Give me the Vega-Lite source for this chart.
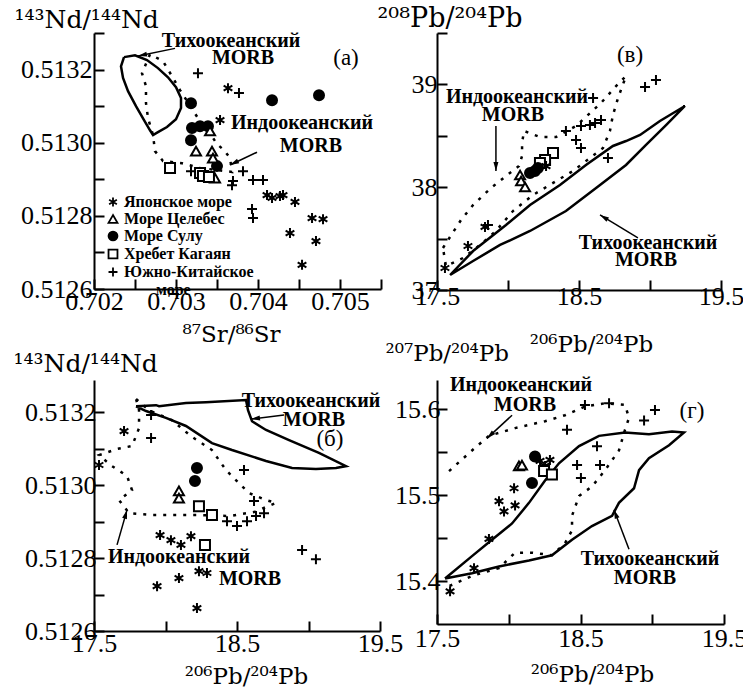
{
"$schema": "https://vega.github.io/schema/vega-lite/v6.json",
"background": "white",
"padding": {"left": 13, "top": 4, "right": 0, "bottom": 0},
"bounds": "flush",
"columns": 2,
"spacing": {"row": 90, "column": 56},
"resolve": {"scale": {"shape": "independent", "fill": "independent", "stroke": "independent"}},
"config": {
  "view": {"stroke": null},
  "font": "Liberation Serif",
  "axis": {"domainColor": "black", "domainWidth": 2, "tickColor": "black", "tickWidth": 2, "tickSize": -10, "labelPadding": 6,
    "labelFont": "Liberation Serif", "labelFontSize": 26, "labelColor": "black", "titleFont": "DejaVu Serif", "titleFontSize": 23,
    "titleFontWeight": "normal", "titleColor": "black", "grid": false, "labelOverlap": false, "labelFlush": false, "labelBound": false}
},
"datasets": {
  "ptsA": [
    {"x":0.703268,"y":0.513190,"s":"Южно-Китайское море"},{"x":0.703768,"y":0.513136,"s":"Южно-Китайское море"},{"x":0.703183,"y":0.512922,"s":"Южно-Китайское море"},{"x":0.703695,"y":0.512895,"s":"Южно-Китайское море"},{"x":0.703817,"y":0.512922,"s":"Южно-Китайское море"},{"x":0.703939,"y":0.512898,"s":"Южно-Китайское море"},{"x":0.704061,"y":0.512898,"s":"Южно-Китайское море"},{"x":0.703683,"y":0.512884,"s":"Южно-Китайское море"},{"x":0.703927,"y":0.512819,"s":"Южно-Китайское море"},{"x":0.703939,"y":0.512794,"s":"Южно-Китайское море"},
    {"x":0.703634,"y":0.513149,"s":"Японское море"},{"x":0.703537,"y":0.513062,"s":"Японское море"},{"x":0.704110,"y":0.512857,"s":"Японское море"},{"x":0.704171,"y":0.512849,"s":"Японское море"},{"x":0.704268,"y":0.512854,"s":"Японское море"},{"x":0.704305,"y":0.512857,"s":"Японское море"},{"x":0.704451,"y":0.512838,"s":"Японское море"},{"x":0.704659,"y":0.512794,"s":"Японское море"},{"x":0.704793,"y":0.512791,"s":"Японское море"},{"x":0.704390,"y":0.512753,"s":"Японское море"},{"x":0.704707,"y":0.512731,"s":"Японское море"},{"x":0.704537,"y":0.512666,"s":"Японское море"},
    {"x":0.704171,"y":0.513116,"s":"Море Сулу"},{"x":0.704744,"y":0.513130,"s":"Море Сулу"},{"x":0.703183,"y":0.513108,"s":"Море Сулу"},{"x":0.703195,"y":0.513040,"s":"Море Сулу"},{"x":0.703293,"y":0.513045,"s":"Море Сулу"},{"x":0.703390,"y":0.513045,"s":"Море Сулу"},{"x":0.703183,"y":0.513007,"s":"Море Сулу"},{"x":0.703500,"y":0.512936,"s":"Море Сулу"},
    {"x":0.703415,"y":0.513032,"s":"Море Целебес"},{"x":0.703244,"y":0.512977,"s":"Море Целебес"},{"x":0.703439,"y":0.512977,"s":"Море Целебес"},{"x":0.703451,"y":0.512958,"s":"Море Целебес"},{"x":0.703476,"y":0.512903,"s":"Море Целебес"},
    {"x":0.702927,"y":0.512931,"s":"Хребет Кагаян"},{"x":0.703293,"y":0.512917,"s":"Хребет Кагаян"},{"x":0.703329,"y":0.512909,"s":"Хребет Кагаян"},{"x":0.703402,"y":0.512906,"s":"Хребет Кагаян"}
  ],
  "pacA": [
    {"i":0,"x":0.702366,"y":0.513234},{"i":1,"x":0.702500,"y":0.513239},{"i":2,"x":0.702646,"y":0.513226},{"i":3,"x":0.702780,"y":0.513204},{"i":4,"x":0.702902,"y":0.513179},{"i":5,"x":0.703000,"y":0.513152},{"i":6,"x":0.703061,"y":0.513122},{"i":7,"x":0.703061,"y":0.513095},{"i":8,"x":0.703000,"y":0.513064},{"i":9,"x":0.702890,"y":0.513043},{"i":10,"x":0.702780,"y":0.513029},{"i":11,"x":0.702720,"y":0.513021},{"i":12,"x":0.702683,"y":0.513034},{"i":13,"x":0.702610,"y":0.513062},{"i":14,"x":0.702512,"y":0.513100},{"i":15,"x":0.702415,"y":0.513141},{"i":16,"x":0.702354,"y":0.513177},{"i":17,"x":0.702329,"y":0.513209},{"i":18,"x":0.702366,"y":0.513234}
  ],
  "indA": [
    {"i":0,"x":0.702683,"y":0.513242},{"i":1,"x":0.702585,"y":0.513190},{"i":2,"x":0.702634,"y":0.513155},{"i":3,"x":0.702634,"y":0.513108},{"i":4,"x":0.702659,"y":0.513067},{"i":5,"x":0.702720,"y":0.513021},{"i":6,"x":0.702744,"y":0.512977},{"i":7,"x":0.702841,"y":0.512950},{"i":8,"x":0.703073,"y":0.512944},{"i":9,"x":0.703293,"y":0.512931},{"i":10,"x":0.703683,"y":0.512920},{"i":11,"x":0.703659,"y":0.512958},{"i":12,"x":0.703585,"y":0.512980},{"i":13,"x":0.703500,"y":0.512996},{"i":14,"x":0.703415,"y":0.513026},{"i":15,"x":0.703268,"y":0.513067},{"i":16,"x":0.703049,"y":0.513144},{"i":17,"x":0.702951,"y":0.513182},{"i":18,"x":0.702841,"y":0.513223},{"i":19,"x":0.702683,"y":0.513242}
  ],
  "txtA": [
    {"x":0.703671,"y":0.513278,"t":"Тихоокеанский"},{"x":0.703817,"y":0.513231,"t":"MORB"},{"x":0.704537,"y":0.513054,"t":"Индоокеанский"},{"x":0.704646,"y":0.512991,"t":"MORB"}
  ],
  "arrA": [
    {"k":1,"x":0.702537,"y":0.513237,"x2":0.702988,"y2":0.513258},{"k":2,"x":0.703659,"y":0.512939,"x2":0.703988,"y2":0.512974}
  ],
  "ptsB": [
    {"x":18.965,"y":38.975,"s":"Южно-Китайское море"},{"x":19.042,"y":39.043,"s":"Южно-Китайское море"},{"x":18.599,"y":38.868,"s":"Южно-Китайское море"},{"x":18.514,"y":38.595,"s":"Южно-Китайское море"},{"x":18.577,"y":38.605,"s":"Южно-Китайское море"},{"x":18.613,"y":38.625,"s":"Южно-Китайское море"},{"x":18.655,"y":38.654,"s":"Южно-Китайское море"},{"x":18.408,"y":38.547,"s":"Южно-Китайское море"},{"x":18.479,"y":38.459,"s":"Южно-Китайское море"},{"x":18.514,"y":38.381,"s":"Южно-Китайское море"},{"x":18.704,"y":38.284,"s":"Южно-Китайское море"},{"x":17.859,"y":37.632,"s":"Южно-Китайское море"},
    {"x":18.317,"y":38.333,"s":"Хребет Кагаян"},{"x":18.261,"y":38.265,"s":"Хребет Кагаян"},{"x":18.225,"y":38.235,"s":"Хребет Кагаян"},
    {"x":18.268,"y":38.206,"s":"Японское море"},{"x":17.838,"y":37.613,"s":"Японское море"},{"x":17.718,"y":37.428,"s":"Японское море"},{"x":17.556,"y":37.214,"s":"Японское море"},
    {"x":18.190,"y":38.158,"s":"Море Сулу"},{"x":18.155,"y":38.138,"s":"Море Сулу"},{"x":18.211,"y":38.187,"s":"Море Сулу"},
    {"x":18.085,"y":38.119,"s":"Море Целебес"},{"x":18.092,"y":38.060,"s":"Море Целебес"},{"x":18.120,"y":38.002,"s":"Море Целебес"}
  ],
  "pacB": [
    {"i":0,"x":17.592,"y":37.146},{"i":1,"x":17.754,"y":37.379},{"i":2,"x":17.986,"y":37.632},{"i":3,"x":18.155,"y":37.827},{"i":4,"x":18.366,"y":38.021},{"i":5,"x":18.549,"y":38.216},{"i":6,"x":18.739,"y":38.401},{"i":7,"x":18.831,"y":38.449},{"i":8,"x":18.930,"y":38.508},{"i":9,"x":19.070,"y":38.644},{"i":10,"x":19.246,"y":38.790},{"i":11,"x":19.113,"y":38.605},{"i":12,"x":18.972,"y":38.411},{"i":13,"x":18.831,"y":38.216},{"i":14,"x":18.648,"y":38.021},{"i":15,"x":18.408,"y":37.768},{"i":16,"x":18.155,"y":37.574},{"i":17,"x":17.944,"y":37.438},{"i":18,"x":17.754,"y":37.282},{"i":19,"x":17.592,"y":37.146}
  ],
  "indB": [
    {"i":0,"x":17.542,"y":37.409},{"i":1,"x":17.669,"y":37.681},{"i":2,"x":17.754,"y":37.827},{"i":3,"x":17.880,"y":37.992},{"i":4,"x":17.986,"y":38.109},{"i":5,"x":18.077,"y":38.206},{"i":6,"x":18.099,"y":38.304},{"i":7,"x":18.099,"y":38.430},{"i":8,"x":18.113,"y":38.547},{"i":9,"x":18.225,"y":38.488},{"i":10,"x":18.338,"y":38.488},{"i":11,"x":18.479,"y":38.595},{"i":12,"x":18.655,"y":38.819},{"i":13,"x":18.761,"y":38.984},{"i":14,"x":18.831,"y":39.082},{"i":15,"x":18.775,"y":38.868},{"i":16,"x":18.739,"y":38.702},{"i":17,"x":18.718,"y":38.547},{"i":18,"x":18.669,"y":38.381},{"i":19,"x":18.458,"y":38.158},{"i":20,"x":18.176,"y":37.924},{"i":21,"x":18.035,"y":37.768},{"i":22,"x":17.915,"y":37.574},{"i":23,"x":17.803,"y":37.438},{"i":24,"x":17.683,"y":37.311},{"i":25,"x":17.563,"y":37.233},{"i":26,"x":17.542,"y":37.409}
  ],
  "txtB": [
    {"x":18.063,"y":38.877,"t":"Индоокеанский"},{"x":18.035,"y":38.702,"t":"MORB"},{"x":18.986,"y":37.457,"t":"Тихоокеанский"},{"x":18.972,"y":37.292,"t":"MORB"}
  ],
  "arrB": [
    {"k":1,"x":17.915,"y":38.158,"x2":17.915,"y2":38.595},{"k":2,"x":18.648,"y":37.730,"x2":18.915,"y2":37.506}
  ],
  "ptsC": [
    {"x":17.710,"y":0.513148,"s":"Японское море"},{"x":17.535,"y":0.513055,"s":"Японское море"},{"x":17.962,"y":0.512863,"s":"Японское море"},{"x":18.038,"y":0.512849,"s":"Японское море"},{"x":18.108,"y":0.512836,"s":"Японское море"},{"x":18.178,"y":0.512860,"s":"Японское море"},{"x":18.290,"y":0.512759,"s":"Японское море"},{"x":18.234,"y":0.512764,"s":"Японское море"},{"x":18.094,"y":0.512745,"s":"Японское море"},{"x":17.941,"y":0.512723,"s":"Японское море"},{"x":18.220,"y":0.512663,"s":"Японское море"},
    {"x":17.899,"y":0.513129,"s":"Южно-Китайское море"},{"x":17.899,"y":0.513192,"s":"Южно-Китайское море"},{"x":18.549,"y":0.513041,"s":"Южно-Китайское море"},{"x":18.619,"y":0.512956,"s":"Южно-Китайское море"},{"x":18.430,"y":0.512901,"s":"Южно-Китайское море"},{"x":18.500,"y":0.512888,"s":"Южно-Китайское море"},{"x":18.570,"y":0.512901,"s":"Южно-Китайское море"},{"x":18.633,"y":0.512915,"s":"Южно-Китайское море"},{"x":18.689,"y":0.512923,"s":"Южно-Китайское море"},{"x":18.955,"y":0.512822,"s":"Южно-Китайское море"},{"x":19.052,"y":0.512797,"s":"Южно-Китайское море"},
    {"x":18.220,"y":0.513047,"s":"Море Сулу"},{"x":18.206,"y":0.513011,"s":"Море Сулу"},
    {"x":18.094,"y":0.512984,"s":"Море Целебес"},{"x":18.094,"y":0.512964,"s":"Море Целебес"},
    {"x":18.234,"y":0.512942,"s":"Хребет Кагаян"},{"x":18.325,"y":0.512918,"s":"Хребет Кагаян"},{"x":18.276,"y":0.512836,"s":"Хребет Кагаян"}
  ],
  "pacC": [
    {"i":0,"x":17.794,"y":0.513216},{"i":1,"x":17.934,"y":0.513219},{"i":2,"x":17.955,"y":0.513216},{"i":3,"x":18.143,"y":0.513225},{"i":4,"x":18.283,"y":0.513227},{"i":5,"x":18.563,"y":0.513233},{"i":6,"x":18.577,"y":0.513205},{"i":7,"x":18.605,"y":0.513175},{"i":8,"x":18.703,"y":0.513151},{"i":9,"x":18.864,"y":0.513123},{"i":10,"x":19.073,"y":0.513088},{"i":11,"x":19.262,"y":0.513052},{"i":12,"x":19.192,"y":0.513047},{"i":13,"x":19.052,"y":0.513044},{"i":14,"x":18.885,"y":0.513047},{"i":15,"x":18.703,"y":0.513066},{"i":16,"x":18.465,"y":0.513096},{"i":17,"x":18.325,"y":0.513115},{"i":18,"x":18.143,"y":0.513162},{"i":19,"x":18.003,"y":0.513184},{"i":20,"x":17.864,"y":0.513203},{"i":21,"x":17.794,"y":0.513216}
  ],
  "indC": [
    {"i":0,"x":17.794,"y":0.513236},{"i":1,"x":17.885,"y":0.513205},{"i":2,"x":18.045,"y":0.513178},{"i":3,"x":18.178,"y":0.513134},{"i":4,"x":18.325,"y":0.513096},{"i":5,"x":18.423,"y":0.513041},{"i":6,"x":18.514,"y":0.513005},{"i":7,"x":18.584,"y":0.512978},{"i":8,"x":18.703,"y":0.512959},{"i":9,"x":18.773,"y":0.512951},{"i":10,"x":18.619,"y":0.512926},{"i":11,"x":18.444,"y":0.512915},{"i":12,"x":18.234,"y":0.512918},{"i":13,"x":18.073,"y":0.512918},{"i":14,"x":17.906,"y":0.512918},{"i":15,"x":17.745,"y":0.512923},{"i":16,"x":17.675,"y":0.512959},{"i":17,"x":17.766,"y":0.512986},{"i":18,"x":17.731,"y":0.513025},{"i":19,"x":17.626,"y":0.513052},{"i":20,"x":17.535,"y":0.513082},{"i":21,"x":17.661,"y":0.513099},{"i":22,"x":17.766,"y":0.513107},{"i":23,"x":17.815,"y":0.513156},{"i":24,"x":17.815,"y":0.513205},{"i":25,"x":17.794,"y":0.513236}
  ],
  "txtC": [
    {"x":19.017,"y":0.513230,"t":"Тихоокеанский"},{"x":19.038,"y":0.513178,"t":"MORB"},{"x":18.094,"y":0.512803,"t":"Индоокеанский"},{"x":18.591,"y":0.512742,"t":"MORB"}
  ],
  "arrC": [
    {"k":1,"x":18.598,"y":0.513181,"x2":18.829,"y2":0.513192},{"k":2,"x":17.731,"y":0.512932,"x2":17.661,"y2":0.512836}
  ],
  "ptsD": [
    {"x":18.531,"y":15.605,"s":"Южно-Китайское море"},{"x":18.699,"y":15.607,"s":"Южно-Китайское море"},{"x":19.019,"y":15.599,"s":"Южно-Китайское море"},{"x":18.943,"y":15.587,"s":"Южно-Китайское море"},{"x":18.406,"y":15.576,"s":"Южно-Китайское море"},{"x":18.615,"y":15.557,"s":"Южно-Китайское море"},{"x":18.476,"y":15.535,"s":"Южно-Китайское море"},{"x":18.636,"y":15.535,"s":"Южно-Китайское море"},{"x":18.503,"y":15.520,"s":"Южно-Китайское море"},
    {"x":18.183,"y":15.545,"s":"Море Сулу"},{"x":18.162,"y":15.514,"s":"Море Сулу"},
    {"x":18.071,"y":15.534,"s":"Море Целебес"},{"x":18.092,"y":15.535,"s":"Море Целебес"},
    {"x":18.218,"y":15.540,"s":"Японское море"},{"x":18.287,"y":15.541,"s":"Японское море"},{"x":18.253,"y":15.534,"s":"Японское море"},{"x":18.037,"y":15.508,"s":"Японское море"},{"x":17.932,"y":15.493,"s":"Японское море"},{"x":17.967,"y":15.481,"s":"Японское море"},{"x":18.044,"y":15.488,"s":"Японское море"},{"x":17.862,"y":15.449,"s":"Японское море"},{"x":17.758,"y":15.415,"s":"Японское море"},{"x":17.591,"y":15.388,"s":"Японское море"},
    {"x":18.246,"y":15.528,"s":"Хребет Кагаян"},{"x":18.301,"y":15.524,"s":"Хребет Кагаян"}
  ],
  "pacD": [
    {"i":0,"x":17.556,"y":15.403},{"i":1,"x":17.744,"y":15.429},{"i":2,"x":17.883,"y":15.448},{"i":3,"x":18.023,"y":15.467},{"i":4,"x":18.141,"y":15.491},{"i":5,"x":18.253,"y":15.517},{"i":6,"x":18.350,"y":15.537},{"i":7,"x":18.490,"y":15.557},{"i":8,"x":18.629,"y":15.569},{"i":9,"x":18.810,"y":15.573},{"i":10,"x":18.977,"y":15.571},{"i":11,"x":19.138,"y":15.574},{"i":12,"x":19.221,"y":15.573},{"i":13,"x":19.117,"y":15.558},{"i":14,"x":18.977,"y":15.543},{"i":15,"x":18.908,"y":15.529},{"i":16,"x":18.873,"y":15.508},{"i":17,"x":18.768,"y":15.491},{"i":18,"x":18.720,"y":15.476},{"i":19,"x":18.580,"y":15.464},{"i":20,"x":18.441,"y":15.448},{"i":21,"x":18.301,"y":15.430},{"i":22,"x":18.141,"y":15.424},{"i":23,"x":17.932,"y":15.417},{"i":24,"x":17.744,"y":15.409},{"i":25,"x":17.556,"y":15.403}
  ],
  "indD": [
    {"i":0,"x":17.584,"y":15.528},{"i":1,"x":17.744,"y":15.552},{"i":2,"x":17.862,"y":15.569},{"i":3,"x":18.044,"y":15.578},{"i":4,"x":18.253,"y":15.586},{"i":5,"x":18.392,"y":15.593},{"i":6,"x":18.531,"y":15.603},{"i":7,"x":18.671,"y":15.607},{"i":8,"x":18.810,"y":15.605},{"i":9,"x":18.838,"y":15.590},{"i":10,"x":18.810,"y":15.576},{"i":11,"x":18.768,"y":15.552},{"i":12,"x":18.671,"y":15.529},{"i":13,"x":18.580,"y":15.510},{"i":14,"x":18.490,"y":15.499},{"i":15,"x":18.441,"y":15.476},{"i":16,"x":18.441,"y":15.459},{"i":17,"x":18.392,"y":15.444},{"i":18,"x":18.301,"y":15.430},{"i":19,"x":18.162,"y":15.433},{"i":20,"x":18.044,"y":15.433},{"i":21,"x":17.932,"y":15.415},{"i":22,"x":17.744,"y":15.406},{"i":23,"x":17.584,"y":15.394}
  ],
  "txtD": [
    {"x":18.085,"y":15.628,"t":"Индоокеанский"},{"x":18.113,"y":15.605,"t":"MORB"},{"x":18.984,"y":15.426,"t":"Тихоокеанский"},{"x":18.949,"y":15.403,"t":"MORB"}
  ],
  "arrD": [
    {"k":1,"x":17.848,"y":15.566,"x2":18.023,"y2":15.593},{"k":2,"x":18.733,"y":15.483,"x2":18.838,"y2":15.437}
  ]
},
"concat": [
  {
    "width": 287, "height": 256,
    "encoding": {
      "x": {"field": "x", "type": "quantitative", "scale": {"domain": [0.702, 0.7055], "nice": false, "zero": false},
        "axis": {"title": "⁸⁷Sr/⁸⁶Sr", "values": [0.702, 0.7025, 0.703, 0.7035, 0.704, 0.7045, 0.705, 0.7055],
          "labelExpr": "indexof(['0.7020','0.7030','0.7040','0.7050'], format(datum.value,'.4f')) >= 0 ? format(datum.value,'.3f') : ''",
          "titleX": 137, "titleY": 52, "titleAlign": "center", "titleBaseline": "alphabetic", "labelPadding": 9}},
      "y": {"field": "y", "type": "quantitative", "scale": {"domain": [0.5126, 0.5133], "nice": false, "zero": false},
        "axis": {"title": "¹⁴³Nd/¹⁴⁴Nd", "titleFontSize": 25, "values": [0.5126, 0.5127, 0.5128, 0.5129, 0.513, 0.5131, 0.5132, 0.5133],
          "labelExpr": "indexof(['0.5126','0.5128','0.5130','0.5132'], format(datum.value,'.4f')) >= 0 ? format(datum.value,'.4f') : ''",
          "labelPadding": 12, "titleAngle": 0, "titleAlign": "left", "titleBaseline": "alphabetic", "titleX": -80, "titleY": -6}}
    },
    "layer": [
      {"data": {"name": "pacA"}, "mark": {"type": "line", "color": "black", "strokeWidth": 2.5}, "encoding": {"order": {"field": "i", "type": "quantitative"}}},
      {"data": {"name": "indA"}, "mark": {"type": "line", "color": "black", "strokeWidth": 2.5, "strokeDash": [3, 7]}, "encoding": {"order": {"field": "i", "type": "quantitative"}}},
      {"data": {"name": "arrA"}, "mark": {"type": "rule", "color": "black", "strokeWidth": 1.5}, "encoding": {"x2": {"field": "x2"}, "y2": {"field": "y2"}}},
      {"data": {"name": "arrA"}, "transform": [{"filter": "datum.k == 1"}], "mark": {"type": "point", "shape": "M0,0L0.5,1.8L-0.5,1.8Z", "angle": 258, "size": 100, "filled": true, "color": "black", "opacity": 1}},
      {"data": {"name": "arrA"}, "transform": [{"filter": "datum.k == 2"}], "mark": {"type": "point", "shape": "M0,0L0.5,1.8L-0.5,1.8Z", "angle": 244, "size": 100, "filled": true, "color": "black", "opacity": 1}},
      {"data": {"name": "ptsA"}, "mark": {"type": "point", "filled": true, "strokeWidth": 2, "opacity": 1, "size": 100},
        "encoding": {
          "shape": {"field": "s", "type": "nominal", "scale": {"domain": ["Японское море", "Море Целебес", "Море Сулу", "Хребет Кагаян", "Южно-Китайское море"], "range": ["M0,-1L0,1M-0.87,-0.5L0.87,0.5M-0.87,0.5L0.87,-0.5", "triangle-up", "circle", "square", "M-1,0L1,0M0,-1L0,1"]},
            "legend": {"orient": "none", "legendX": 11, "legendY": 161, "title": null, "padding": 0, "labelFont": "Liberation Serif", "labelFontSize": 16, "labelFontWeight": "bold", "labelColor": "black", "rowPadding": 0, "symbolStrokeWidth": 1.8, "symbolSize": 80, "labelOffset": 3,
              "labelExpr": "datum.label == 'Южно-Китайское море' ? ['Южно-Китайское', '\u200b\u00a0\u00a0\u00a0\u00a0\u00a0\u00a0\u00a0\u00a0море'] : datum.label"}},
          "fill": {"field": "s", "type": "nominal", "scale": {"domain": ["Японское море", "Море Целебес", "Море Сулу", "Хребет Кагаян", "Южно-Китайское море"], "range": ["black", "white", "black", "white", "black"]},
            "legend": {"orient": "none", "legendX": 11, "legendY": 161, "title": null, "padding": 0, "labelFont": "Liberation Serif", "labelFontSize": 16, "labelFontWeight": "bold", "labelColor": "black", "rowPadding": 0, "symbolStrokeWidth": 1.8, "symbolSize": 80, "labelOffset": 3,
              "labelExpr": "datum.label == 'Южно-Китайское море' ? ['Южно-Китайское', '\u200b\u00a0\u00a0\u00a0\u00a0\u00a0\u00a0\u00a0\u00a0море'] : datum.label"}},
          "stroke": {"field": "s", "type": "nominal", "scale": {"domain": ["Японское море", "Море Целебес", "Море Сулу", "Хребет Кагаян", "Южно-Китайское море"], "range": ["black", "black", "black", "black", "black"]},
            "legend": {"orient": "none", "legendX": 11, "legendY": 161, "title": null, "padding": 0, "labelFont": "Liberation Serif", "labelFontSize": 16, "labelFontWeight": "bold", "labelColor": "black", "rowPadding": 0, "symbolStrokeWidth": 1.8, "symbolSize": 80, "labelOffset": 3,
              "labelExpr": "datum.label == 'Южно-Китайское море' ? ['Южно-Китайское', '\u200b\u00a0\u00a0\u00a0\u00a0\u00a0\u00a0\u00a0\u00a0море'] : datum.label"}}
        }},
      {"data": {"name": "txtA"}, "mark": {"type": "text", "font": "Liberation Serif", "fontWeight": "bold", "fontSize": 20, "color": "black", "align": "center", "baseline": "middle"}, "encoding": {"text": {"field": "t"}}},
      {"data": {"values": [{"x": 0.705073, "y": 0.513231, "t": "(а)"}]}, "mark": {"type": "text", "font": "Liberation Serif", "fontSize": 23, "color": "black", "align": "center", "baseline": "middle"}, "encoding": {"text": {"field": "t"}}}
    ]
  },
  {
    "width": 284, "height": 257,
    "encoding": {
      "x": {"field": "x", "type": "quantitative", "scale": {"domain": [17.5, 19.5], "nice": false, "zero": false},
        "axis": {"title": "²⁰⁶Pb/²⁰⁴Pb", "values": [17.5, 18, 18.5, 19, 19.5],
          "labelExpr": "datum.value == 18 || datum.value == 19 ? '' : format(datum.value, '.1f')",
          "titleX": 154, "titleY": 61, "titleAlign": "center", "titleBaseline": "alphabetic", "labelPadding": 3}},
      "y": {"field": "y", "type": "quantitative", "scale": {"domain": [37, 39.5], "nice": false, "zero": false},
        "axis": {"title": "²⁰⁸Pb/²⁰⁴Pb", "titleFontSize": 27, "values": [37, 37.5, 38, 38.5, 39, 39.5],
          "labelExpr": "datum.value % 1 == 0 ? format(datum.value, 'd') : ''",
          "labelPadding": 10, "titleAngle": 0, "titleAlign": "left", "titleBaseline": "alphabetic", "titleX": -60, "titleY": -7}}
    },
    "layer": [
      {"data": {"name": "pacB"}, "mark": {"type": "line", "color": "black", "strokeWidth": 2.5}, "encoding": {"order": {"field": "i", "type": "quantitative"}}},
      {"data": {"name": "indB"}, "mark": {"type": "line", "color": "black", "strokeWidth": 2.5, "strokeDash": [3, 7]}, "encoding": {"order": {"field": "i", "type": "quantitative"}}},
      {"data": {"name": "arrB"}, "mark": {"type": "rule", "color": "black", "strokeWidth": 1.5}, "encoding": {"x2": {"field": "x2"}, "y2": {"field": "y2"}}},
      {"data": {"name": "arrB"}, "transform": [{"filter": "datum.k == 1"}], "mark": {"type": "point", "shape": "M0,0L0.5,1.8L-0.5,1.8Z", "angle": 180, "size": 100, "filled": true, "color": "black", "opacity": 1}},
      {"data": {"name": "arrB"}, "transform": [{"filter": "datum.k == 2"}], "mark": {"type": "point", "shape": "M0,0L0.5,1.8L-0.5,1.8Z", "angle": 301, "size": 100, "filled": true, "color": "black", "opacity": 1}},
      {"data": {"name": "ptsB"}, "mark": {"type": "point", "filled": true, "stroke": "black", "strokeWidth": 2, "opacity": 1, "size": 100},
        "encoding": {
          "shape": {"field": "s", "type": "nominal", "scale": {"domain": ["Японское море", "Море Целебес", "Море Сулу", "Хребет Кагаян", "Южно-Китайское море"], "range": ["M0,-1L0,1M-0.87,-0.5L0.87,0.5M-0.87,0.5L0.87,-0.5", "triangle-up", "circle", "square", "M-1,0L1,0M0,-1L0,1"]}, "legend": null},
          "fill": {"field": "s", "type": "nominal", "scale": {"domain": ["Японское море", "Море Целебес", "Море Сулу", "Хребет Кагаян", "Южно-Китайское море"], "range": ["black", "white", "black", "white", "black"]}, "legend": null}
        }},
      {"data": {"name": "txtB"}, "mark": {"type": "text", "font": "Liberation Serif", "fontWeight": "bold", "fontSize": 20, "color": "black", "align": "center", "baseline": "middle"}, "encoding": {"text": {"field": "t"}}},
      {"data": {"values": [{"x": 18.859, "y": 39.286, "t": "(в)"}]}, "mark": {"type": "text", "font": "Liberation Serif", "fontSize": 23, "color": "black", "align": "center", "baseline": "middle"}, "encoding": {"text": {"field": "t"}}}
    ]
  },
  {
    "width": 286, "height": 251,
    "encoding": {
      "x": {"field": "x", "type": "quantitative", "scale": {"domain": [17.5, 19.5], "nice": false, "zero": false},
        "axis": {"title": "²⁰⁶Pb/²⁰⁴Pb", "values": [17.5, 18, 18.5, 19, 19.5],
          "labelExpr": "datum.value == 18 || datum.value == 19 ? '' : format(datum.value, '.1f')",
          "titleX": 152, "titleY": 52, "titleAlign": "center", "titleBaseline": "alphabetic", "labelPadding": 9}},
      "y": {"field": "y", "type": "quantitative", "scale": {"domain": [0.5126, 0.513288], "nice": false, "zero": false},
        "axis": {"title": "¹⁴³Nd/¹⁴⁴Nd", "titleFontSize": 25, "values": [0.5126, 0.5127, 0.5128, 0.5129, 0.513, 0.5131, 0.5132],
          "labelExpr": "indexof(['0.5126','0.5128','0.5130','0.5132'], format(datum.value,'.4f')) >= 0 ? format(datum.value,'.4f') : ''",
          "labelPadding": 8, "titleAngle": 0, "titleAlign": "left", "titleBaseline": "alphabetic", "titleX": -81, "titleY": -9}}
    },
    "layer": [
      {"data": {"name": "pacC"}, "mark": {"type": "line", "color": "black", "strokeWidth": 2.5}, "encoding": {"order": {"field": "i", "type": "quantitative"}}},
      {"data": {"name": "indC"}, "mark": {"type": "line", "color": "black", "strokeWidth": 2.5, "strokeDash": [3, 7]}, "encoding": {"order": {"field": "i", "type": "quantitative"}}},
      {"data": {"name": "arrC"}, "mark": {"type": "rule", "color": "black", "strokeWidth": 1.5}, "encoding": {"x2": {"field": "x2"}, "y2": {"field": "y2"}}},
      {"data": {"name": "arrC"}, "transform": [{"filter": "datum.k == 1"}], "mark": {"type": "point", "shape": "M0,0L0.5,1.8L-0.5,1.8Z", "angle": 263, "size": 100, "filled": true, "color": "black", "opacity": 1}},
      {"data": {"name": "arrC"}, "transform": [{"filter": "datum.k == 2"}], "mark": {"type": "point", "shape": "M0,0L0.5,1.8L-0.5,1.8Z", "angle": 16, "size": 100, "filled": true, "color": "black", "opacity": 1}},
      {"data": {"name": "ptsC"}, "mark": {"type": "point", "filled": true, "stroke": "black", "strokeWidth": 2, "opacity": 1, "size": 100},
        "encoding": {
          "shape": {"field": "s", "type": "nominal", "scale": {"domain": ["Японское море", "Море Целебес", "Море Сулу", "Хребет Кагаян", "Южно-Китайское море"], "range": ["M0,-1L0,1M-0.87,-0.5L0.87,0.5M-0.87,0.5L0.87,-0.5", "triangle-up", "circle", "square", "M-1,0L1,0M0,-1L0,1"]}, "legend": null},
          "fill": {"field": "s", "type": "nominal", "scale": {"domain": ["Японское море", "Море Целебес", "Море Сулу", "Хребет Кагаян", "Южно-Китайское море"], "range": ["black", "white", "black", "white", "black"]}, "legend": null}
        }},
      {"data": {"name": "txtC"}, "mark": {"type": "text", "font": "Liberation Serif", "fontWeight": "bold", "fontSize": 20, "color": "black", "align": "center", "baseline": "middle"}, "encoding": {"text": {"field": "t"}}},
      {"data": {"values": [{"x": 19.150, "y": 0.513126, "t": "(б)"}]}, "mark": {"type": "text", "font": "Liberation Serif", "fontSize": 23, "color": "black", "align": "center", "baseline": "middle"}, "encoding": {"text": {"field": "t"}}}
    ]
  },
  {
    "width": 287, "height": 244,
    "encoding": {
      "x": {"field": "x", "type": "quantitative", "scale": {"domain": [17.5, 19.5], "nice": false, "zero": false},
        "axis": {"title": "²⁰⁶Pb/²⁰⁴Pb", "values": [17.5, 18, 18.5, 19, 19.5],
          "labelExpr": "datum.value == 18 || datum.value == 19 ? '' : format(datum.value, '.1f')",
          "titleX": 155, "titleY": 57, "titleAlign": "center", "titleBaseline": "alphabetic", "labelPadding": 11}},
      "y": {"field": "y", "type": "quantitative", "scale": {"domain": [15.35, 15.634], "nice": false, "zero": false},
        "axis": {"title": "²⁰⁷Pb/²⁰⁴Pb", "values": [15.4, 15.45, 15.5, 15.55, 15.6],
          "labelExpr": "indexof(['15.40','15.50','15.60'], format(datum.value,'.2f')) >= 0 ? format(datum.value,'.1f') : ''",
          "labelPadding": 7, "titleAngle": 0, "titleAlign": "left", "titleBaseline": "alphabetic", "titleX": -52, "titleY": -20}}
    },
    "layer": [
      {"data": {"name": "pacD"}, "mark": {"type": "line", "color": "black", "strokeWidth": 2.5}, "encoding": {"order": {"field": "i", "type": "quantitative"}}},
      {"data": {"name": "indD"}, "mark": {"type": "line", "color": "black", "strokeWidth": 2.5, "strokeDash": [3, 7]}, "encoding": {"order": {"field": "i", "type": "quantitative"}}},
      {"data": {"name": "arrD"}, "mark": {"type": "rule", "color": "black", "strokeWidth": 1.5}, "encoding": {"x2": {"field": "x2"}, "y2": {"field": "y2"}}},
      {"data": {"name": "arrD"}, "transform": [{"filter": "datum.k == 1"}], "mark": {"type": "point", "shape": "M0,0L0.5,1.8L-0.5,1.8Z", "angle": 227, "size": 100, "filled": true, "color": "black", "opacity": 1}},
      {"data": {"name": "arrD"}, "transform": [{"filter": "datum.k == 2"}], "mark": {"type": "point", "shape": "M0,0L0.5,1.8L-0.5,1.8Z", "angle": 339, "size": 100, "filled": true, "color": "black", "opacity": 1}},
      {"data": {"name": "ptsD"}, "mark": {"type": "point", "filled": true, "stroke": "black", "strokeWidth": 2, "opacity": 1, "size": 100},
        "encoding": {
          "shape": {"field": "s", "type": "nominal", "scale": {"domain": ["Японское море", "Море Целебес", "Море Сулу", "Хребет Кагаян", "Южно-Китайское море"], "range": ["M0,-1L0,1M-0.87,-0.5L0.87,0.5M-0.87,0.5L0.87,-0.5", "triangle-up", "circle", "square", "M-1,0L1,0M0,-1L0,1"]}, "legend": null},
          "fill": {"field": "s", "type": "nominal", "scale": {"domain": ["Японское море", "Море Целебес", "Море Сулу", "Хребет Кагаян", "Южно-Китайское море"], "range": ["black", "white", "black", "white", "black"]}, "legend": null}
        }},
      {"data": {"name": "txtD"}, "mark": {"type": "text", "font": "Liberation Serif", "fontWeight": "bold", "fontSize": 20, "color": "black", "align": "center", "baseline": "middle"}, "encoding": {"text": {"field": "t"}}},
      {"data": {"values": [{"x": 19.277, "y": 15.598, "t": "(г)"}]}, "mark": {"type": "text", "font": "Liberation Serif", "fontSize": 23, "color": "black", "align": "center", "baseline": "middle"}, "encoding": {"text": {"field": "t"}}}
    ]
  }
]
}
